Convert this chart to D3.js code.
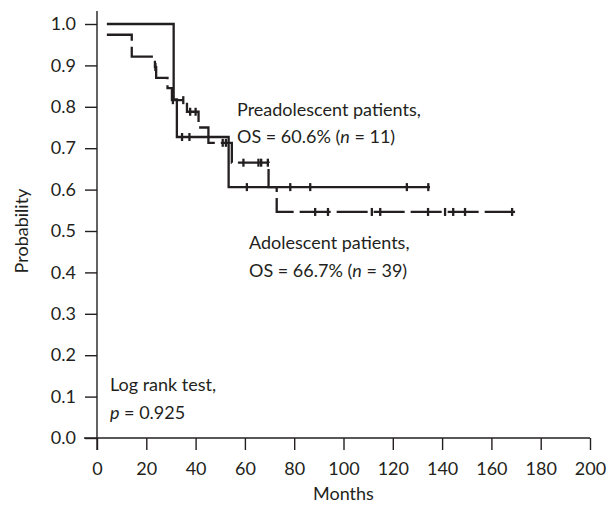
<!DOCTYPE html>
<html lang="en">
	<head>
		<meta charset="utf-8">
		<title>Survival</title>
		<style>
			body { margin: 0; background: #fff; }
			text {
				font-family: Lato, sans-serif;
				font-size: 18px;
				fill: #231f20;
			}
			.axis path, .axis line { stroke: #231f20; stroke-width: 1.4px; }
			.curve { fill: none; stroke: #231f20; stroke-width: 2.3px; }
			.censor { stroke: #231f20; stroke-width: 2.3px; }
		</style>
	</head>
	<body>
		<script src="https://cdn.jsdelivr.net/npm/d3@7"></script>
		<script>
			// Tick values for both axes
			var xTicks = [0, 20, 40, 60, 80, 100, 120, 140, 160, 180, 200];
			var yTicks = [0, 0.1, 0.2, 0.3, 0.4, 0.5, 0.6, 0.7, 0.8, 0.9, 1.0];

			// Preadolescent patients (solid): times of each step and survival after it
			var preTimes = [4, 31.1, 32.4, 53.4];
			var preSurv = [1.0, 0.818, 0.727, 0.606];
			var preEnd = 135.1;
			var preCensor = [34.5, 37.5, 60.8, 78.4, 86.5, 125.7, 134.4];

			// Adolescent patients (dashed)
			var adoTimes = [4, 14.1, 23.5, 24.0, 28.6, 30.4, 36.5, 41.2, 45.2, 54.7, 69.6, 72.9];
			var adoSurv = [0.974, 0.921, 0.896, 0.870, 0.845, 0.816, 0.788, 0.750, 0.713, 0.665, 0.606, 0.546];
			var adoEnd = 169.6;
			var adoCensor = [23.7, 30.8, 35.0, 37.8, 40.0, 51.0, 52.3, 59.4, 65.5, 66.6, 69.3,
				88.5, 93.7, 111.5, 114.9, 134.3, 141.2, 144.5, 149.3, 168.4];

			var w = 616, h = 510;

			var svg = d3.select("body").append("svg")
				.attr("width", w)
				.attr("height", h);

			var xScale = d3.scaleLinear().domain([0, 200]).range([97, 590]);
			var yScale = d3.scaleLinear().domain([0, 1]).range([438, 24]);

			// x axis, domain drawn separately so it crosses the y axis
			var xAxis = d3.axisBottom(xScale)
				.tickValues(xTicks)
				.tickSize(12)
				.tickPadding(12)
				.tickFormat(d3.format("d"));

			var gx = svg.append("g")
				.attr("class", "axis")
				.attr("transform", "translate(0," + yScale(0) + ")")
				.call(xAxis);
			gx.select(".domain").remove();
			gx.append("line")
				.attr("x1", xScale(0) - 13).attr("x2", xScale(200));

			var yAxis = d3.axisLeft(yScale)
				.tickValues(yTicks)
				.tickSize(12)
				.tickPadding(9)
				.tickFormat(d3.format(".1f"));

			var gy = svg.append("g")
				.attr("class", "axis")
				.attr("transform", "translate(" + xScale(0) + ",0)")
				.call(yAxis);
			gy.select(".domain").remove();
			gy.append("line")
				.attr("y1", yScale(1) - 13).attr("y2", yScale(0) + 12);

			svg.selectAll(".axis text")
				.attr("font-family", null)
				.attr("font-size", null)
				.style("fill", "#231f20");

			// Axis titles
			svg.append("text")
				.attr("x", (xScale(0) + xScale(200)) / 2)
				.attr("y", 500)
				.attr("text-anchor", "middle")
				.text("Months");

			svg.append("text")
				.attr("transform", "translate(28," + yScale(0.5) + ") rotate(-90)")
				.attr("text-anchor", "middle")
				.text("Probability");

			// Kaplan-Meier step curves
			var line = d3.line()
				.curve(d3.curveStepAfter)
				.x(function(d) { return xScale(d[0]); })
				.y(function(d) { return yScale(d[1]); });

			function stepPoints(times, surv, end) {
				var pts = times.map(function(t, i) { return [t, surv[i]]; });
				pts.push([end, surv[surv.length - 1]]);
				return pts;
			}

			function survAt(times, surv, t) {
				var i = d3.bisectRight(times, t) - 1;
				return surv[Math.max(i, 0)];
			}

			svg.append("path")
				.attr("class", "curve")
				.attr("d", line(stepPoints(adoTimes, adoSurv, adoEnd)))
				.attr("stroke-dasharray", "31,6");

			svg.append("path")
				.attr("class", "curve")
				.attr("d", line(stepPoints(preTimes, preSurv, preEnd)));

			// Censor ticks
			function drawCensor(cls, times, surv, cens) {
				svg.selectAll("." + cls)
					.data(cens)
					.enter()
					.append("line")
					.attr("class", "censor " + cls)
					.attr("x1", function(d) { return xScale(d); })
					.attr("x2", function(d) { return xScale(d); })
					.attr("y1", function(d) { return yScale(survAt(times, surv, d)) - 4; })
					.attr("y2", function(d) { return yScale(survAt(times, surv, d)) + 4; });
			}
			drawCensor("c-ado", adoTimes, adoSurv, adoCensor);
			drawCensor("c-pre", preTimes, preSurv, preCensor);

			// Annotations
			function label(x, y, parts) {
				var t = svg.append("text").attr("x", x).attr("y", y);
				parts.forEach(function(p) {
					t.append("tspan")
						.style("font-style", p[1] ? "italic" : null)
						.text(p[0]);
				});
			}

			label(237, 116, [["Preadolescent patients,"]]);
			label(237, 143, [["OS = 60.6% ("], ["n", true], [" = 11)"]]);
			label(249, 249, [["Adolescent patients,"]]);
			label(249, 277, [["OS = 66.7% ("], ["n", true], [" = 39)"]]);
			label(110, 391, [["Log rank test,"]]);
			label(110, 419, [["p", true], [" = 0.925"]]);
		</script>
	</body>
</html>
